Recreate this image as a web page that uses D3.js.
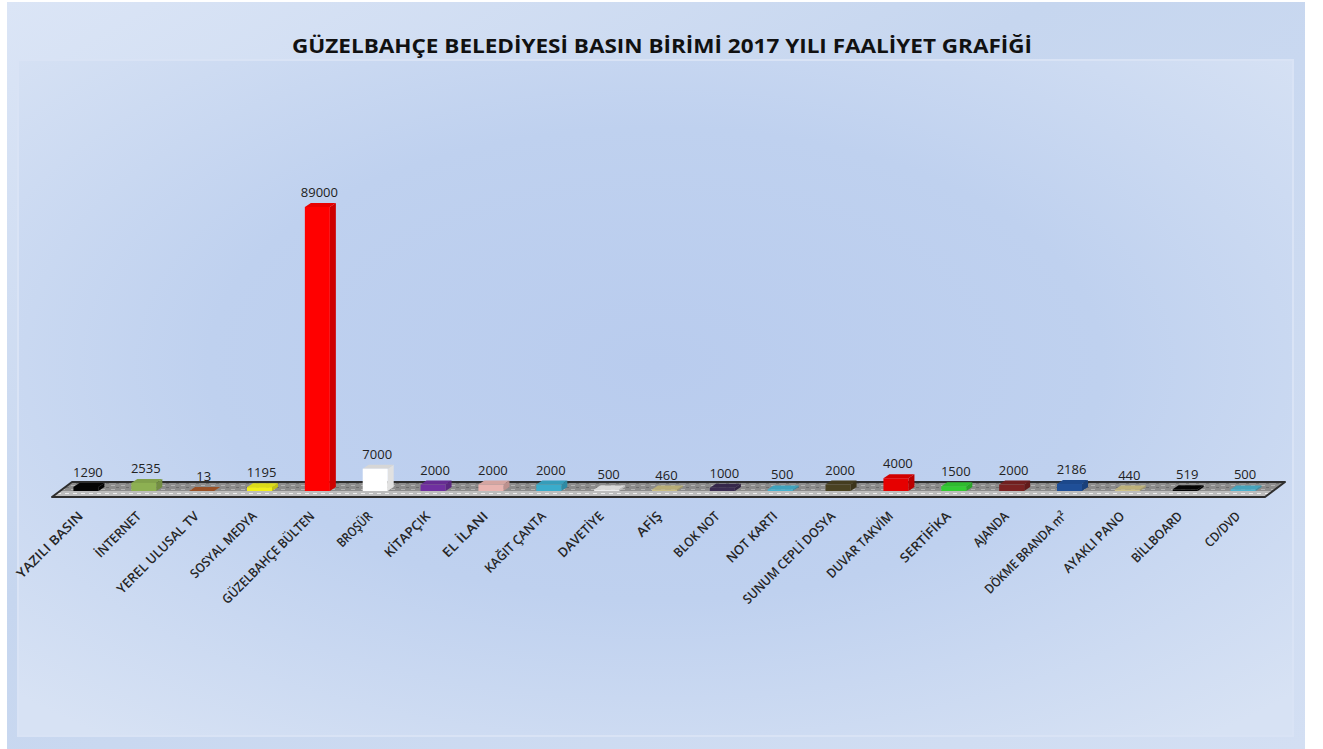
<!DOCTYPE html>
<html lang="tr">
<head>
<meta charset="UTF-8">
<title>Güzelbahçe Belediyesi Basın Birimi 2017</title>
<script src="https://d3js.org/d3.v7.min.js"></script>
<style>
    body { margin: 0; background: #fff; }
    svg { display: block; }
</style>
</head>
<body>
<svg id="chart" width="1323" height="749"></svg>
<script>
// chart data
const categories = [
    "YAZILI BASIN", "İNTERNET", "YEREL ULUSAL TV", "SOSYAL MEDYA", "GÜZELBAHÇE BÜLTEN",
    "BROŞÜR", "KİTAPÇIK", "EL İLANI", "KAĞIT ÇANTA", "DAVETİYE", "AFİŞ", "BLOK NOT",
    "NOT KARTI", "SUNUM CEPLİ DOSYA", "DUVAR TAKVİM", "SERTİFİKA", "AJANDA",
    "DÖKME BRANDA m²", "AYAKLI PANO", "BİLLBOARD", "CD/DVD"
];
const values = [1290, 2535, 13, 1195, 89000, 7000, 2000, 2000, 2000, 500, 460, 1000,
    500, 2000, 4000, 1500, 2000, 2186, 440, 519, 500];
const barColors = [
    "#050505", "#8db052", "#a85a2c", "#f2f01a", "#ff0000", "#ffffff", "#7030a0",
    "#e9b4b0", "#3aaccb", "#ececec", "#c9bd82", "#3b2c52", "#45b2d0", "#4a4222",
    "#e60000", "#33cc33", "#7a2222", "#1f4f98", "#cfc287", "#050505", "#4cb3cf"
];
const title = "GÜZELBAHÇE BELEDİYESİ BASIN BİRİMİ 2017 YILI FAALİYET GRAFİĞİ";

const W = 1323, H = 749;
const svg = d3.select("#chart");
const defs = svg.append("defs");

// background gradients
const outerG = defs.append("linearGradient").attr("id", "outerG")
    .attr("x1", 0).attr("y1", 0).attr("x2", 1).attr("y2", 1);
outerG.append("stop").attr("offset", "0%").attr("stop-color", "#dbe5f6");
outerG.append("stop").attr("offset", "40%").attr("stop-color", "#c6d6ef");
outerG.append("stop").attr("offset", "100%").attr("stop-color", "#d3dff3");

const innerG = defs.append("radialGradient").attr("id", "innerG")
    .attr("cx", "50%").attr("cy", "45%").attr("r", "70%");
innerG.append("stop").attr("offset", "0%").attr("stop-color", "#b9ccee");
innerG.append("stop").attr("offset", "50%").attr("stop-color", "#bfd1ef");
innerG.append("stop").attr("offset", "100%").attr("stop-color", "#d7e2f4");

// floor textures
const pat = defs.append("pattern").attr("id", "floorPat")
    .attr("width", 10).attr("height", 4).attr("patternUnits", "userSpaceOnUse");
pat.append("rect").attr("width", 10).attr("height", 4).attr("fill", "#8c8c8c");
pat.append("rect").attr("x", 1).attr("y", 1).attr("width", 4).attr("height", 1).attr("fill", "#b4b4b4");
pat.append("rect").attr("x", 6).attr("y", 3).attr("width", 3).attr("height", 1).attr("fill", "#6e6e6e");
const pat2 = defs.append("pattern").attr("id", "floorPat2")
    .attr("width", 8).attr("height", 3).attr("patternUnits", "userSpaceOnUse");
pat2.append("rect").attr("width", 8).attr("height", 3).attr("fill", "#bdbdbd");
pat2.append("rect").attr("x", 1).attr("y", 1).attr("width", 4).attr("height", 1).attr("fill", "#efefef");

svg.append("rect").attr("x", 7).attr("y", 2).attr("width", 1298).attr("height", H - 2)
    .attr("fill", "url(#outerG)");
svg.append("rect").attr("x", 18).attr("y", 60).attr("width", 1275).attr("height", 676)
    .attr("fill", "url(#innerG)").attr("stroke", "#d9e3f5").attr("stroke-width", 2);

// title
svg.append("text")
    .attr("x", 662).attr("y", 53)
    .attr("text-anchor", "middle")
    .attr("font-family", "'Open Sans', sans-serif")
    .attr("font-weight", "bold")
    .attr("font-size", 20)
    .attr("fill", "#111")
    .attr("textLength", 740)
    .attr("lengthAdjust", "spacingAndGlyphs")
    .text(title);

// scales
const x = d3.scaleBand().domain(categories).range([57, 1272]);
const y = d3.scaleLinear().domain([0, 89000]).range([491, 207]);

const r0 = x.range()[0], r1 = x.range()[1];
const floorTop = 482, floorMid = 491, floorBot = 497;
const shear = 20 / (floorBot - floorTop);
const fx = (xx, yy) => xx + (floorBot - yy) * shear; // shear along floor

// floor top surface
svg.append("path")
    .attr("d", `M${fx(r0 - 5, floorTop)},${floorTop} L${fx(r1 - 7, floorTop)},${floorTop}
        L${fx(r1 - 7, floorMid)},${floorMid} L${fx(r0 - 5, floorMid)},${floorMid} Z`)
    .attr("fill", "url(#floorPat)");
svg.append("path")
    .attr("d", `M${fx(r0 - 5, floorMid)},${floorMid} L${fx(r1 - 7, floorMid)},${floorMid}
        L${r1 - 7},${floorBot} L${r0 - 5},${floorBot} Z`)
    .attr("fill", "url(#floorPat2)");
svg.append("path")
    .attr("d", `M${fx(r0 - 5, floorTop)},${floorTop} L${fx(r1 - 7, floorTop)},${floorTop}
        L${r1 - 7},${floorBot} L${r0 - 5},${floorBot} Z`)
    .attr("fill", "none").attr("stroke", "#2e2e2e").attr("stroke-width", 2)
    .attr("stroke-linejoin", "round");

// bars (pseudo 3d)
const bw = 25, dx = 6, dy = 4;
const data = categories.map((c, i) => ({ c, v: values[i], col: barColors[i] }));
const cx = d => x(d.c) + x.bandwidth() / 2;

const bars = svg.append("g").selectAll("g").data(data).join("g");

bars.append("path") // side
    .attr("d", d => {
        const x1 = cx(d) + bw / 2, yt = y(d.v), yb = y(0);
        return `M${x1},${yt} L${x1 + dx},${yt - dy} L${x1 + dx},${yb - dy} L${x1},${yb} Z`;
    })
    .attr("fill", d => d3.color(d.col).darker(d.col === "#ffffff" ? 0.35 : 0.6));
bars.append("path") // top
    .attr("d", d => {
        const x0 = cx(d) - bw / 2, x1 = cx(d) + bw / 2, yt = y(d.v);
        return `M${x0},${yt} L${x0 + dx},${yt - dy} L${x1 + dx},${yt - dy} L${x1},${yt} Z`;
    })
    .attr("fill", d => d.col === "#ffffff" ? "#d6d6d6" : d3.color(d.col).darker(0.25));
bars.append("rect") // front
    .attr("x", d => cx(d) - bw / 2)
    .attr("y", d => y(d.v))
    .attr("width", bw)
    .attr("height", d => y(0) - y(d.v))
    .attr("fill", d => d.col);

// value labels
bars.append("text")
    .attr("x", d => cx(d) + 2)
    .attr("y", d => y(d.v) - 10)
    .attr("text-anchor", "middle")
    .attr("font-family", "'Open Sans', sans-serif")
    .attr("font-size", 13)
    .attr("fill", "#222")
    .text(d => d.v);

// category labels
svg.append("g").selectAll("text").data(data).join("text")
    .attr("transform", d => `translate(${cx(d) - 2},517) rotate(-45)`)
    .attr("text-anchor", "end")
    .attr("font-family", "'Open Sans', sans-serif")
    .attr("font-size", 13)
    .attr("font-weight", 600)
    .attr("fill", "#262626")
    .attr("textLength", d => d.c.length * 7.3)
    .attr("lengthAdjust", "spacingAndGlyphs")
    .text(d => d.c);
</script>
</body>
</html>
